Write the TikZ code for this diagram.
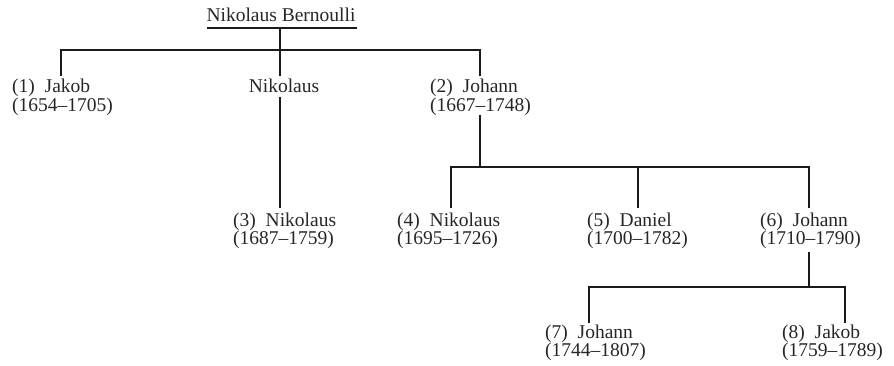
\documentclass[tikz,border=0pt]{standalone}
\usepackage{fontspec}
\setmainfont{Liberation Serif}
\definecolor{ink}{HTML}{262626}
\definecolor{linec}{HTML}{1A1A1A}
\newcommand{\pers}[2]{\vtop{\hbox{#1}\hbox{#2}}}
\begin{document}
\begin{tikzpicture}[x=1pt,y=-1pt,
  lbl/.style={inner sep=0pt, anchor=base west, text=ink, font=\fontsize{19.5}{17.5}\selectfont},
  ctr/.style={inner sep=0pt, anchor=base, text=ink, font=\fontsize{19.5}{17.5}\selectfont},
  tree/.style={draw=linec, line width=2.8pt, line join=miter},
  uline/.style={draw=linec, line width=1.4pt}]
\useasboundingbox (0,0) rectangle (894,366);
% people
\node[ctr] (root) at (281,22) {Nikolaus Bernoulli};
\node[lbl] (p1) at (12,93) {\pers{(1)\enspace Jakob}{(1654–1705)}};
\node[ctr] (nik) at (284,93) {Nikolaus};
\node[lbl] (p2) at (430,93) {\pers{(2)\enspace Johann}{(1667–1748)}};
\node[lbl] (p3) at (233,226) {\pers{(3)\enspace Nikolaus}{(1687–1759)}};
\node[lbl] (p4) at (397,226) {\pers{(4)\enspace Nikolaus}{(1695–1726)}};
\node[lbl] (p5) at (587,226) {\pers{(5)\enspace Daniel}{(1700–1782)}};
\node[lbl] (p6) at (760,226) {\pers{(6)\enspace Johann}{(1710–1790)}};
\node[lbl] (p7) at (545,338) {\pers{(7)\enspace Johann}{(1744–1807)}};
\node[lbl] (p8) at (782,338) {\pers{(8)\enspace Jakob}{(1759–1789)}};
% coordinates
\coordinate (uL) at (207,28);
\coordinate (uR) at (357,28);
\coordinate (r0) at (280,28);
\coordinate (r1) at (280,50);
\coordinate (b1L) at (61,50);
\coordinate (b1R) at (480,50);
\coordinate (t1) at (61,76);
\coordinate (tn) at (280,76);
\coordinate (sn) at (280,97);
\coordinate (t3) at (280,208);
\coordinate (t2) at (480,76);
\coordinate (s2) at (480,115);
\coordinate (j2) at (480,167);
\coordinate (b2L) at (451,167);
\coordinate (b2M) at (638,167);
\coordinate (b2R) at (809,167);
\coordinate (t4) at (451,208);
\coordinate (t5) at (638,208);
\coordinate (t6) at (809,208);
\coordinate (s6) at (809,252);
\coordinate (j6) at (809,287);
\coordinate (b3L) at (589,287);
\coordinate (b3R) at (845,287);
\coordinate (t7) at (589,323);
\coordinate (t8) at (845,323);
% connectors
\draw[uline] (uL) -- (uR);
\draw[tree] (r0) -- (r1);
\draw[tree] (t1) -- (b1L) -- (b1R) -- (t2);
\draw[tree] (r1) -- (tn);
\draw[tree] (sn) -- (t3);
\draw[tree] (s2) -- (j2);
\draw[tree] (t4) -- (b2L) -- (b2R) -- (t6);
\draw[tree] (b2M) -- (t5);
\draw[tree] (s6) -- (j6);
\draw[tree] (t7) -- (b3L) -- (b3R) -- (t8);
\end{tikzpicture}
\end{document}
